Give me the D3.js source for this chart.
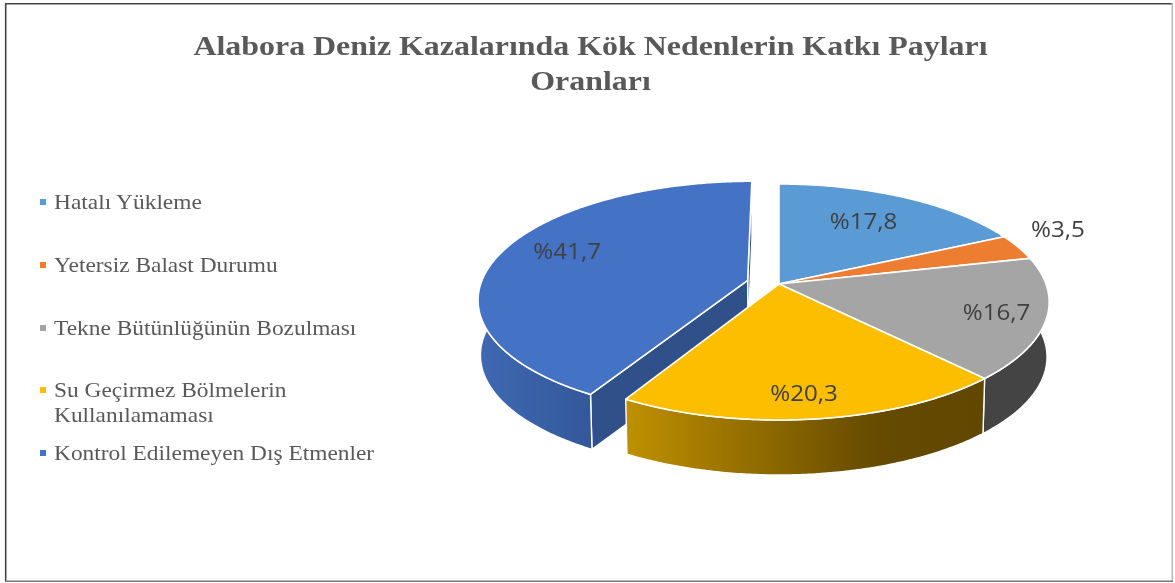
<!DOCTYPE html>
<html><head><meta charset="utf-8">
<script src="https://cdnjs.cloudflare.com/ajax/libs/d3/7.8.5/d3.min.js"></script>
<style>html,body{margin:0;padding:0;background:#fff;overflow:hidden}svg{display:block;filter:blur(0.45px)}</style>
</head><body><svg id="c" width="1175" height="583"></svg>
<script>
const titleLines = ["Alabora Deniz Kazalarında Kök Nedenlerin Katkı Payları", "Oranları"];
const categories = [["Hatalı Yükleme"], ["Yetersiz Balast Durumu"], ["Tekne Bütünlüğünün Bozulması"], ["Su Geçirmez Bölmelerin", "Kullanılamaması"], ["Kontrol Edilemeyen Dış Etmenler"]];
const values = [17.8, 3.5, 16.7, 20.3, 41.7];
const labels = ["%17,8", "%3,5", "%16,7", "%20,3", "%41,7"];
const colors = ["#5b9bd5", "#ed7d31", "#a5a5a5", "#fdbe00", "#4472c4"];
const explode = [0, 0, 0, 0, 0.122];
const labelRadius = [0.69, 1.24, 0.82, 0.83, 0.76];
const labelTurn = [-2, -5, 0, 1, 5.6];

const svg = d3.select("#c");
const cx = 779, cy = 284, R = 267, h = 115.25, k = 0.1525, depth = 55, bottomScale = 0.992;
const TAU = 2 * Math.PI;

const arcs = d3.pie().sort(null).value(d => d).startAngle(0).endAngle(TAU)(values)
  .map((a, i) => ({...a, i, off: explode[i], mid: (a.startAngle + a.endAngle) / 2}));

// Perspective projection of a point on the unit pie plane
function proj(a, r, s, bottom) {
  const u = r * Math.sin(a) + s.off * Math.sin(s.mid);
  const v = -r * Math.cos(a) - s.off * Math.cos(s.mid);
  const d = 1 - k * v;
  let x = cx + R * u / d, y = cy + h * v / d;
  if (bottom) { x = cx + (x - cx) * bottomScale; y += depth; }
  return [x, y];
}
const line = d3.line();
function rim(s, a0, a1, bottom) {
  const n = Math.max(2, Math.ceil((a1 - a0) / 0.01));
  return d3.range(n + 1).map(j => proj(a0 + (a1 - a0) * j / n, 1, s, bottom));
}
const defs = svg.append("defs");
function grad(id, x1, x2, stops) {
  const g = defs.append("linearGradient").attr("id", id).attr("gradientUnits", "userSpaceOnUse")
    .attr("x1", x1).attr("x2", x2).attr("y1", 0).attr("y2", 0);
  stops.forEach(s => g.append("stop").attr("offset", s[0]).attr("stop-color", s[1]));
}
grad("gy", 626, 985, [[0, "#bf9000"], [0.7, "#654a00"], [1, "#614700"]]);
grad("gb", 478, 594, [[0, "#3f69b2"], [1, "#33589a"]]);

svg.append("path").attr("d", "M5.7 581V3.7H1172").attr("fill", "none").attr("stroke", "#444").attr("stroke-width", 1.6);
svg.append("path").attr("d", "M1172.3 3V581").attr("fill", "none").attr("stroke", "#bbb").attr("stroke-width", 1.6);
svg.append("path").attr("d", "M5 581.3H1173").attr("fill", "none").attr("stroke", "#777").attr("stroke-width", 1.6);

const pie = svg.append("g");
function wall(points, fill) {
  pie.append("path").attr("d", line(points) + "Z").attr("fill", fill)
    .attr("stroke", "#fff").attr("stroke-width", 1.4).attr("stroke-linejoin", "round");
}
function outerWall(s, a0, a1, fill) {
  wall(rim(s, a0, a1, false).concat(rim(s, a0, a1, true).reverse()), fill);
}
function cutFace(s, a, fill) {
  wall([proj(a, 1, s), proj(a, 0, s), proj(a, 0, s, true), proj(a, 1, s, true)], fill);
}
const [sGray, sYellow, sBlue] = [arcs[2], arcs[3], arcs[4]];
const sideTilt = 0.16; // the widest point of the projected rim lies slightly behind the pie's diameter
cutFace(sBlue, sBlue.endAngle, "#2f5089");
cutFace(sBlue, sBlue.startAngle, "#2f5089");
outerWall(sBlue, sBlue.startAngle, 1.5 * Math.PI + sideTilt, "url(#gb)");
outerWall(sGray, 0.5 * Math.PI - sideTilt, sGray.endAngle, "#444444");
outerWall(sYellow, sYellow.startAngle, sYellow.endAngle, "url(#gy)");

arcs.forEach(s => {
  const pts = [proj(0, 0, s)].concat(rim(s, s.startAngle, s.endAngle, false));
  pie.append("path").attr("d", line(pts) + "Z").attr("fill", colors[s.i])
    .attr("stroke", "#fff").attr("stroke-width", 1.6).attr("stroke-linejoin", "round");
});

function stretched(sel, x, y, f) { return sel.attr("transform", `translate(${x},${y}) scale(${f},1)`); }

svg.append("g").selectAll("text").data(arcs).join("text")
  .each(function (s) {
    const p = proj(s.mid + labelTurn[s.i] * Math.PI / 180, labelRadius[s.i], s);
    stretched(d3.select(this), p[0], p[1], 1.15);
  })
  .attr("text-anchor", "middle").attr("dominant-baseline", "central")
  .attr("font-family", "'Open Sans'").attr("font-size", 21).attr("fill", "#404040")
  .text(s => labels[s.i]);

const title = svg.append("g").attr("font-family", "'Liberation Serif'").attr("font-weight", "bold")
  .attr("font-size", 28).attr("fill", "#595959").attr("text-anchor", "middle");
titleLines.forEach((t, i) => stretched(title.append("text"), 590.5, 55 + i * 35, 1.14).text(t));

const legendRows = [202, 265, 328, 390, 453];
const legend = svg.append("g");
categories.forEach((lines, i) => {
  const y = legendRows[i];
  legend.append("rect").attr("x", 40).attr("y", y - 3).attr("width", 6).attr("height", 6).attr("fill", colors[i]);
  lines.forEach((t, j) => stretched(legend.append("text"), 54, y + 7 + j * 25, 1.17)
    .attr("font-family", "'Liberation Serif'").attr("font-size", 20).attr("fill", "#595959").text(t));
});
</script></body></html>
